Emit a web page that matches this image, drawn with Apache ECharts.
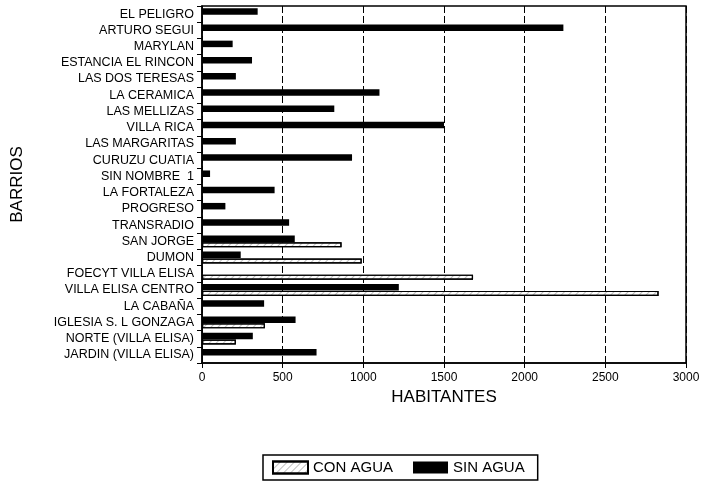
<!DOCTYPE html>
<html>
<head>
<meta charset="utf-8">
<script src="https://cdn.jsdelivr.net/npm/echarts@6/dist/echarts.min.js"></script>
<style>
html,body{margin:0;padding:0;background:#fff;}
#c{width:701px;height:490px;}
</style>
</head>
<body>
<div id="c"></div>
<script>
var categories = ["EL PELIGRO","ARTURO SEGUI","MARYLAN","ESTANCIA EL RINCON","LAS DOS TERESAS","LA CERAMICA","LAS MELLIZAS","VILLA RICA","LAS MARGARITAS","CURUZU CUATIA","SIN NOMBRE  1","LA FORTALEZA","PROGRESO","TRANSRADIO","SAN JORGE","DUMON","FOECYT VILLA ELISA","VILLA ELISA CENTRO","LA CABAÑA","IGLESIA S. L GONZAGA","NORTE (VILLA ELISA)","JARDIN (VILLA ELISA)"];
var sinAgua = [345,2240,190,310,210,1100,820,1500,210,930,50,450,145,540,575,240,null,1220,385,580,315,710];
var conAgua = [null,null,null,null,null,null,null,null,null,null,null,null,null,null,865,990,1680,2830,null,390,210,null];
var xTicks = [0,500,1000,1500,2000,2500,3000];

var chart = echarts.init(document.getElementById('c'), null, {renderer:'canvas'});
var font = 'Liberation Sans, Arial, sans-serif';
var hatch = {
  symbol: 'rect', symbolSize: 1, color: 'rgba(0,0,0,0.25)',
  dashArrayX: [1,0], dashArrayY: [1,4], rotation: -Math.PI/4
};
chart.setOption({
  animation: false,
  backgroundColor: '#fff',
  grid: {left: 202, right: 15, top: 6, bottom: 127, outerBoundsMode: 'none', containLabel: false,
    show: true, borderColor: '#000', borderWidth: 1.5, backgroundColor: 'transparent'},
  xAxis: {
    type: 'value', min: 0, max: 3000, interval: 500,
    name: 'HABITANTES', nameLocation: 'middle', nameGap: 24,
    nameTextStyle: {fontFamily: font, fontSize: 17, color: '#000'},
    axisLine: {show: true, lineStyle: {color: '#000', width: 1.5}},
    axisTick: {show: true, length: 5, lineStyle: {color: '#000'}},
    axisLabel: {fontFamily: font, fontSize: 12, color: '#000', margin: 9,
      formatter: function(v){ return xTicks.indexOf(v) >= 0 ? String(v) : ''; }},
    splitLine: {show: true, lineStyle: {color: '#000', width: 1, type: [7,3]}}
  },
  yAxis: {
    type: 'category', data: categories, inverse: true,
    name: 'BARRIOS', nameLocation: 'middle', nameGap: 176, nameRotate: 90,
    nameTextStyle: {fontFamily: font, fontSize: 17, color: '#000'},
    axisLine: {show: true, lineStyle: {color: '#000', width: 1.5}},
    axisTick: {show: true, length: 5, lineStyle: {color: '#000'}},
    axisLabel: {fontFamily: font, fontSize: 12.5, color: '#000', margin: 8, interval: 0, hideOverlap: false},
    splitLine: {show: false}
  },
  legend: {
    left: 263, top: 455, orient: 'horizontal',
    data: ['CON AGUA', 'SIN AGUA'],
    icon: 'rect',
    borderColor: '#000', borderWidth: 1.5, borderRadius: 0,
    padding: [5, 13, 5, 9], itemGap: 20, itemWidth: 35, itemHeight: 12,
    textStyle: {fontFamily: font, fontSize: 15, color: '#000'}
  },
  series: [
    {
      name: 'SIN AGUA', type: 'bar', data: sinAgua,
      barWidth: 6.5, barGap: '5%', barCategoryGap: '20%',
      itemStyle: {color: '#000'}
    },
    {
      name: 'CON AGUA', type: 'bar', data: conAgua,
      barWidth: 5,
      itemStyle: {color: '#fff', borderColor: '#000', borderWidth: 1.2, decal: hatch}
    }
  ]
});
</script>
</body>
</html>
